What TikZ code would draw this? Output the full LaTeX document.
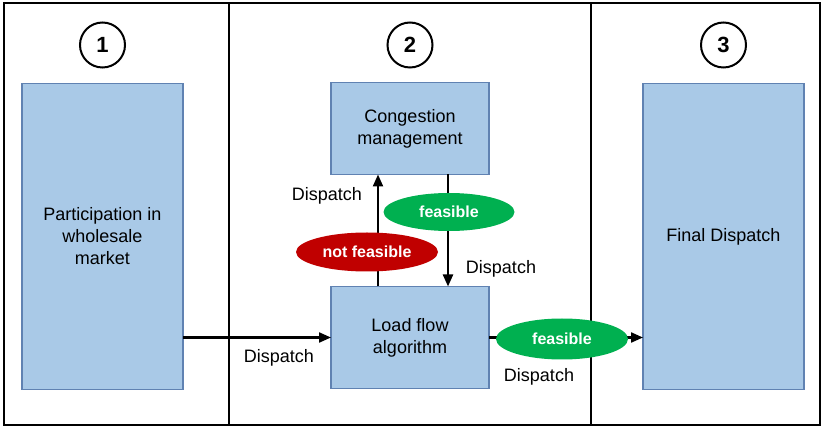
\documentclass[tikz,border=0pt]{standalone}
\usepackage{fontspec}
\setmainfont{Liberation Sans}
\usepackage{tikz}
\usetikzlibrary{arrows.meta,%
	shapes.geometric,%
	positioning}
\definecolor{boxfill}{RGB}{169,201,231}
\definecolor{boxline}{RGB}{96,130,178}
\definecolor{okgreen}{RGB}{0,176,80}
\definecolor{nogred}{RGB}{192,0,0}

\begin{document}
\begin{tikzpicture}[x=1pt, y=-1pt, font=\fontsize{18}{22}\selectfont, stage/.style = {rectangle, draw=boxline, line width=1.5pt, fill=boxfill, inner sep=0pt, outer sep=0pt, align=center}, step num/.style = {circle, draw, line width=2pt, minimum size=45pt, inner sep=0pt, font=\fontsize{22}{22}\selectfont\bfseries}, verdict/.style = {ellipse, inner sep=0pt, text=white, font=\fontsize{16}{16}\selectfont\bfseries}, flow/.style = {line width=2.2pt, -{Triangle[length=12pt, width=10pt]}}]
	\useasboundingbox (0,0) rectangle (822,427);
	% frame and the three columns
	\draw[line width=1.6pt] (4,3) rectangle (820,425);
	\draw[line width=1.6pt] (229,3) -- (229,425);
	\draw[line width=1.6pt] (591,3) -- (591,425);
	\node[step num] (n1) at (102.5,45) {1};
	\node[step num] (n2) at (410,45) {2};
	\node[step num] (n3) at (723.5,45) {3};
	\node[stage, minimum width=161pt, minimum height=306pt] (market) at (102.5,236.5) {Participation in\\wholesale\\market};
	\node[stage, minimum width=158pt, minimum height=92pt] (cong) at (410,128.5) {Congestion\\management};
	\node[stage, minimum width=158pt, minimum height=102pt] (lf) at (410,337.5) {Load flow\\algorithm};
	\node[stage, minimum width=161pt, minimum height=306pt] (final) at (723.5,236.5) {Final Dispatch};
	\draw[flow] (market.east |- lf.west) -- (lf.west);
	\draw[flow] ([xshift=-32pt]lf.north) -- ([xshift=-32pt]cong.south);
	\draw[flow] ([xshift=38pt]cong.south) -- ([xshift=38pt]lf.north);
	\draw[flow] (lf.east) -- (final.west |- lf.east);
	\node[verdict, fill=okgreen, minimum width=131pt, minimum height=38pt] (ok1) at (449,212) {feasible};
	\node[verdict, fill=nogred, minimum width=142pt, minimum height=39pt] (nok) at (367,252) {not feasible};
	\node[verdict, fill=okgreen, minimum width=132pt, minimum height=41pt] (ok2) at (562,339) {feasible};
	\node (d1) at (279,358) {Dispatch};
	\node (d2) at (327,196) {Dispatch};
	\node (d3) at (501,269) {Dispatch};
	\node (d4) at (539,377) {Dispatch};
\end{tikzpicture}
\end{document}
